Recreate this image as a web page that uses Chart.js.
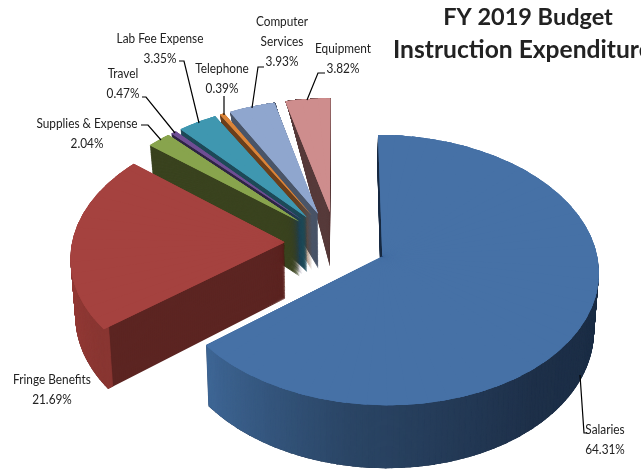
<!DOCTYPE html>
<html><head><meta charset="utf-8">
<style>html,body{margin:0;padding:0;background:#fff;overflow:hidden}canvas{display:block}</style>
<script src="https://cdn.jsdelivr.net/npm/chart.js@4"></script>
</head><body>
<canvas id="c" width="641" height="470"></canvas>
<script>
const categories = ["Salaries","Fringe Benefits","Supplies & Expense","Travel","Lab Fee Expense","Telephone","Computer Services","Equipment"];
const values = [64.31,21.69,2.04,0.47,3.35,0.39,3.93,3.82];
const titleLines = ["FY 2019 Budget","Instruction Expenditure"];
const topColors = ["#4671A6","#A5423F","#88A44D","#6F4E94","#3F97B0","#DB8438","#8FA6CE","#CE8D8D"];
const cutColors = ["#1B2D44","#5C2522","#3A431F","#2F2545","#1E4A58","#6A3F1C","#4A5568","#573B3B"];
const wallStops = [
  [[90,[27,45,68]],[140,[30,48,73]],[190,[43,70,102]],[232,[63,103,150]]],
  [[231,[136,54,50]],[275,[156,62,58]]],
  [[0,[58,67,31]]],[[0,[47,37,69]]],[[0,[30,74,88]]],[[0,[106,63,28]]],[[0,[74,85,104]]],[[0,[87,59,59]]]
];
// label block: lines of text centred on x, first baseline y; leader polyline
const labelBlocks = [
  {lines:["Salaries"],x:605,y:434,lead:[[580,375],[584,433],[587,433]]},
  {lines:["Fringe Benefits"],x:52,y:384,lead:null},
  {lines:["Supplies & Expense"],x:87,y:128,lead:[[141,125],[148,125],[161,140]]},
  {lines:["Travel"],x:123,y:78,lead:[[142,97],[146,97],[175,133]]},
  {lines:["Lab Fee Expense"],x:160,y:43,lead:[[179,61],[184,61],[199,123]]},
  {lines:["Telephone"],x:222,y:73,lead:[[224,96],[224,115]]},
  {lines:["Computer","Services"],x:282,y:26,lead:[[264,67],[258,67],[252,108]]},
  {lines:["Equipment"],x:343,y:53,lead:[[325,73],[318,73],[307,100]]}
];
const labelFontSize = 13.6, labelSqueeze = 0.87;
// camera model for the tilted exploded pie
const cam = {cx:335.8,cy:242.6,rx:212.7,ry:131,persp:0.1,explode:0.24,depth:56,taper:0.018};
function den(v){return 1+cam.persp*v;}
function dep(v){const s=v<=0.3?1:Math.max(0,1-Math.pow((v-0.3)/0.9,2));return cam.depth/den(v)*s;}
function proj(u,v,t){const d=den(v);return [cam.cx+cam.rx*u/d*(1-cam.taper*t), cam.cy-cam.ry*v/d+t*dep(v)];}
function wallColor(i,deg){
  const s=wallStops[i];let c=s[0][1];
  if(s.length>1){
    if(deg<=s[0][0])c=s[0][1];else if(deg>=s[s.length-1][0])c=s[s.length-1][1];
    else for(let k=0;k<s.length-1;k++){if(deg>=s[k][0]&&deg<=s[k+1][0]){const f=(deg-s[k][0])/(s[k+1][0]-s[k][0]);
      c=s[k][1].map((x,j)=>x+(s[k+1][1][j]-x)*f);break;}}
  }
  return `rgb(${c.map(Math.round).join(",")})`;
}
function optsFor(color){return {backgroundColor:color,borderColor:color,borderWidth:0,borderAlign:"center",offset:0,spacing:0,borderRadius:0,circular:true,borderJoinStyle:"round",borderDash:[],borderDashOffset:0};}
function drawWedge(ctx,arc,base,mid,a1,a2,t,color,inner){
  const ex=cam.explode*Math.cos(mid),ey=-cam.explode*Math.sin(mid);
  const T0=proj(ex,ey,t),T1=proj(ex+Math.cos(a1),ey-Math.sin(a1),t),T2=proj(ex+Math.cos(a2),ey-Math.sin(a2),t);
  const R=base.outerRadius;
  const e1=[R*Math.cos(a1),R*Math.sin(a1)],e2=[R*Math.cos(a2),R*Math.sin(a2)];
  const det=e1[0]*e2[1]-e2[0]*e1[1];
  const f1=[T1[0]-T0[0],T1[1]-T0[1]],f2=[T2[0]-T0[0],T2[1]-T0[1]];
  const a=(f1[0]*e2[1]-f2[0]*e1[1])/det,c=(f2[0]*e1[0]-f1[0]*e2[0])/det;
  const b=(f1[1]*e2[1]-f2[1]*e1[1])/det,d=(f2[1]*e1[0]-f1[1]*e2[0])/det;
  const e=T0[0]-a*base.x-c*base.y,f=T0[1]-b*base.x-d*base.y;
  ctx.setTransform(a,b,c,d,e,f);
  arc.startAngle=a1;arc.endAngle=a2;arc.circumference=a2-a1;arc.innerRadius=inner*R;
  arc.options=optsFor(color);
  arc.draw(ctx);
}
function wedgesOf(base,stepDeg,overDeg){
  const step=stepDeg*Math.PI/180,over=overDeg*Math.PI/180,out=[];
  for(let a=base.startAngle;a<base.endAngle-1e-6;a+=step){
    out.push([a,Math.min(a+step+over,base.endAngle)]);
  }
  return out;
}
const pie3d={id:"pie3d",
  beforeDatasetDraw(chart,args){
    const ctx=chart.ctx,arcs=chart.getDatasetMeta(args.index).data;
    const LAYERS=60;
    ctx.save();
    for(let i=arcs.length-1;i>=0;i--){
      const arc=arcs[i];
      const base={x:arc.x,y:arc.y,outerRadius:arc.outerRadius,startAngle:arc.startAngle,endAngle:arc.endAngle,innerRadius:arc.innerRadius,circumference:arc.circumference,options:arc.options};
      const mid=(base.startAngle+base.endAngle)/2;
      const ws=wedgesOf(base,4,0.5), bands=wedgesOf(base,1.5,0.4), tops=wedgesOf(base,5,2.5);
      // extruded body, showing the cut faces
      for(let l=LAYERS;l>=1;l--){const t=l/LAYERS;
        for(const w of ws)drawWedge(ctx,arc,base,mid,w[0],w[1],t,cutColors[i],0);
      }
      // outer wall band
      for(let l=LAYERS;l>=1;l--){const t=l/LAYERS;
        for(const w of bands){
          const deg=((w[0]+w[1])/2+Math.PI/2)*180/Math.PI;
          if(deg>92&&deg<272)drawWedge(ctx,arc,base,mid,w[0],w[1],t,wallColor(i,deg),0.97);
        }
      }
      // top face
      for(let p=0;p<2;p++)for(const w of tops)drawWedge(ctx,arc,base,mid,w[0],w[1],0,topColors[i],0);
      Object.assign(arc,{startAngle:base.startAngle,endAngle:base.endAngle,innerRadius:base.innerRadius,circumference:base.circumference,options:base.options});
    }
    ctx.restore();
    ctx.setTransform(1,0,0,1,0,0);
    return false;
  },
  afterDraw(chart){
    const ctx=chart.ctx;
    ctx.save();ctx.setTransform(1,0,0,1,0,0);
    ctx.fillStyle="#222";ctx.strokeStyle="#000";ctx.lineWidth=1.2;ctx.textAlign="center";ctx.textBaseline="alphabetic";
    ctx.font=labelFontSize+"px Lato";
    labelBlocks.forEach((b,i)=>{
      const pct=values[i].toFixed(2)+"%";
      const lines=b.lines.concat([pct]);
      lines.forEach((s,k)=>{
        ctx.setTransform(labelSqueeze,0,0,1,b.x,b.y+k*20);
        ctx.fillText(s,0,0);
      });
      ctx.setTransform(1,0,0,1,0,0);
      if(b.lead){ctx.beginPath();b.lead.forEach((p,k)=>k?ctx.lineTo(p[0],p[1]):ctx.moveTo(p[0],p[1]));ctx.stroke();}
    });
    ctx.fillStyle="#222";
    ctx.font="bold 23.5px Lato";
    ctx.fillText(titleLines[0],528,25);
    ctx.textAlign="left";
    ctx.font="bold 24.6px Lato";
    ctx.fillText(titleLines[1],393,58);
    ctx.restore();
  }
};
new Chart(document.getElementById("c"),{
  type:"pie",
  data:{labels:categories,datasets:[{data:values,backgroundColor:topColors,borderWidth:0}]},
  options:{responsive:false,animation:false,rotation:0,
    plugins:{legend:{display:false},tooltip:{enabled:false},title:{display:false}}},
  plugins:[pie3d]
});
</script>
</body></html>
